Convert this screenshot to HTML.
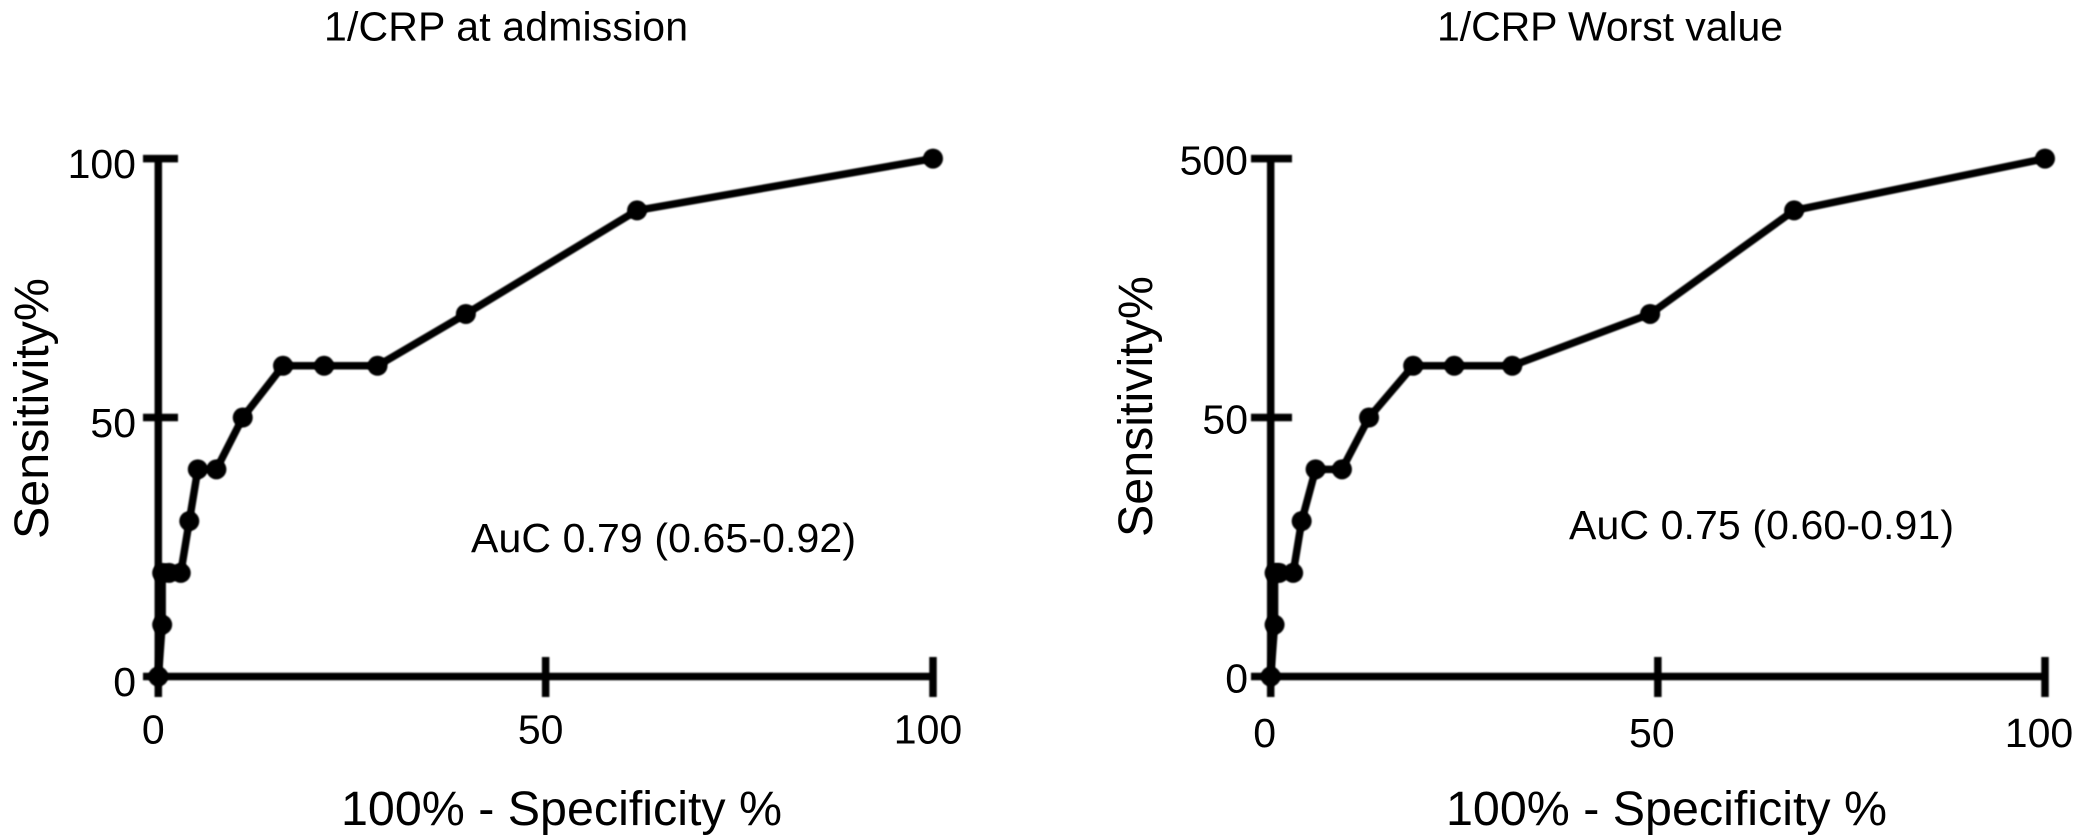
<!DOCTYPE html>
<html lang="en">
<head>
<meta charset="utf-8">
<title>ROC curves for 1/CRP</title>
<style>
html,body{margin:0;padding:0;background:#fff;}
svg{display:block;width:2083px;height:837px;}
text{font-family:"Liberation Sans",Arial,sans-serif;fill:#000;filter:blur(.35px);}
.t41{font-size:41px;}
.t48{font-size:48.4px;}
.mark{filter:blur(.7px);}
</style>
</head>
<body>
<svg id="figure" xmlns="http://www.w3.org/2000/svg" width="2083" height="837" viewBox="0 0 2083 837">
  <rect x="0" y="0" width="2083" height="837" fill="#fff"/>
  <g id="panel-left">
    <text class="t41" x="324" y="40.5" textLength="364">1/CRP at admission</text>
    <text class="t48" transform="translate(48 539) rotate(-90)" x="0" y="0">Sensitivity%</text>
    <text class="t48" x="341" y="825">100% - Specificity %</text>
    <text class="t41" x="471" y="552" textLength="385">AuC 0.79 (0.65-0.92)</text>
  </g>
  <g id="panel-right">
    <text class="t41" x="1437" y="40.5" textLength="346">1/CRP Worst value</text>
    <text class="t48" transform="translate(1152 537) rotate(-90)" x="0" y="0">Sensitivity%</text>
    <text class="t48" x="1446" y="825">100% - Specificity %</text>
    <text class="t41" x="1569" y="539" textLength="385">AuC 0.75 (0.60-0.91)</text>
  </g>
</svg>
<script>
const xTickValues = [0, 50, 100];
const yTickValues = [0, 50, 100];
const xTickLabels = ["0", "50", "100"];
const admissionYTickLabels = ["0", "50", "100"];
const worstYTickLabels = ["0", "50", "500"];

const admissionSpecificity = [0, 0.5, 0.5, 1.4, 2.9, 4.0, 5.1, 7.5, 10.9, 16.1, 21.4, 28.3, 39.7, 61.8, 100];
const admissionSensitivity = [0, 10, 20, 20, 20, 30, 40, 40, 50, 60, 60, 60, 70, 90, 100];

const worstSpecificity = [0, 0.5, 0.5, 1.1, 2.9, 4.0, 5.8, 9.2, 12.7, 18.4, 23.7, 31.2, 49, 67.6, 100];
const worstSensitivity = [0, 10, 20, 20, 20, 30, 40, 40, 50, 60, 60, 60, 70, 90, 100];

const SVG_NS = "http://www.w3.org/2000/svg";
const INK = "#000";
const LINE_WIDTH = 7.5;

function linearScale(d0, d1, r0, r1) {
  return function (v) { return r0 + (v - d0) / (d1 - d0) * (r1 - r0); };
}

function shape(parent, tag, attrs) {
  const el = document.createElementNS(SVG_NS, tag);
  Object.keys(attrs).forEach(function (k) { el.setAttribute(k, attrs[k]); });
  parent.appendChild(el);
  return el;
}

function drawPanel(parent, prefix, cfg) {
  const x = linearScale(0, 100, cfg.x0, cfg.x1);
  const y = linearScale(0, 100, cfg.y0, cfg.y1);

  const yAxis = shape(parent, "line", { x1: x(0), x2: x(0), y1: y(100), y2: cfg.xTickBottom, stroke: INK, "stroke-width": LINE_WIDTH, "class": "mark" });
  
  

  const xAxis = shape(parent, "line", { x1: cfg.yTickLeft, x2: x(100), y1: y(0), y2: y(0), stroke: INK, "stroke-width": LINE_WIDTH, "class": "mark" });
  
  

  xTickValues.forEach(function (v, i) {
    if (v !== 0) {
      const tick = shape(parent, "line", { x1: x(v), x2: x(v), y1: cfg.xTickTop, y2: cfg.xTickBottom, stroke: INK, "stroke-width": LINE_WIDTH, "class": "mark" });
      
      
    }
    const label = shape(parent, "text", { x: x(v) + cfg.xLabelShift, y: cfg.xLabelY, "text-anchor": "middle", "class": "t41" });
    
    
    label.textContent = xTickLabels[i];
  });

  yTickValues.forEach(function (v, i) {
    if (v !== 0) {
      const tick = shape(parent, "line", { x1: cfg.yTickLeft, x2: cfg.yTickRight, y1: y(v), y2: y(v), stroke: INK, "stroke-width": LINE_WIDTH, "class": "mark" });
      
      
    }
    const label = shape(parent, "text", { x: cfg.yLabelX, y: y(v) + cfg.yLabelShift, "text-anchor": "end", "class": "t41" });
    
    
    label.textContent = cfg.yLabels[i];
  });

  const pts = cfg.xs.map(function (v, i) { return x(v) + "," + y(cfg.ys[i]); }).join(" ");
  const curve = shape(parent, "polyline", { points: pts, fill: "none", stroke: INK, "stroke-width": LINE_WIDTH, "stroke-linejoin": "round", "class": "mark" });
  
  

  cfg.xs.forEach(function (v, i) {
    const point = shape(parent, "circle", { cx: x(v), cy: y(cfg.ys[i]), r: 10, fill: INK, "class": "mark" });
    
    
  });
}

drawPanel(document.getElementById("panel-left"), "admission", {
  x0: 158.3, x1: 933, y0: 676.5, y1: 158.6,
  xs: admissionSpecificity, ys: admissionSensitivity, yLabels: admissionYTickLabels,
  yTickLeft: 143, yTickRight: 178, xTickTop: 657, xTickBottom: 697,
  xLabelY: 743.5, xLabelShift: -5, yLabelX: 136, yLabelShift: 19.5
});

drawPanel(document.getElementById("panel-right"), "worst-value", {
  x0: 1270.7, x1: 2045, y0: 676.5, y1: 158.6,
  xs: worstSpecificity, ys: worstSensitivity, yLabels: worstYTickLabels,
  yTickLeft: 1251, yTickRight: 1292, xTickTop: 657, xTickBottom: 697,
  xLabelY: 747, xLabelShift: -6, yLabelX: 1248, yLabelShift: 16
});
</script>
</body>
</html>
